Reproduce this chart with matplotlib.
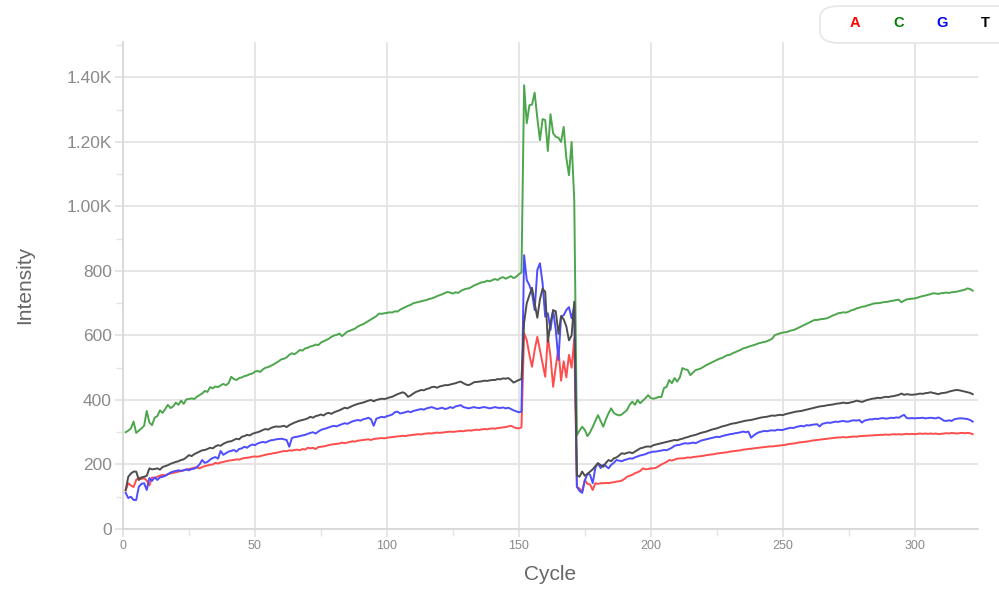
import numpy as np
import matplotlib
matplotlib.use("Agg")
import matplotlib.pyplot as plt
import matplotlib.ticker as mticker
from matplotlib.patches import FancyBboxPatch

plt.rcParams["font.family"] = ["Liberation Sans", "DejaVu Sans"]

# per-cycle base intensities, cycles 1..322
a_int = [
    120, 142, 135, 130, 152, 160, 155, 158, 150, 135,
    160, 158, 162, 165, 168, 166, 170, 172, 174, 176,
    178, 180, 182, 184, 186, 188, 190, 191, 188, 192,
    195, 197, 199, 200, 205, 203, 206, 208, 210, 212,
    213, 214, 216, 215, 218, 220, 221, 222, 224, 225,
    224, 226, 228, 230, 232, 233, 235, 236, 238, 240,
    242, 241, 244, 243, 245, 246, 244, 248, 246, 252,
    250, 252, 248, 254, 255, 256, 258, 260, 262, 263,
    264, 265, 268, 266, 268, 270, 272, 271, 274, 275,
    276, 277, 278, 276, 279, 280, 281, 282, 281, 283,
    284, 285, 286, 287, 288, 289, 288, 290, 291, 292,
    293, 294, 293, 295, 296, 297, 296, 298, 299, 298,
    299, 300, 301, 302, 301, 302, 303, 304, 303, 305,
    306, 305, 307, 308, 307, 309, 310, 309, 311, 312,
    311, 313, 314, 315, 316, 318, 320, 316, 313, 312,
    315,
    607, 586, 540, 503, 555, 596, 555, 514, 472, 596,
    534, 441, 503, 560, 460, 520, 470, 540, 500, 590,
    131, 125, 116, 152, 140, 138, 121, 142, 140, 142,
    142, 143, 142, 144, 145, 147, 148, 150, 155, 162,
    165, 168, 173, 176, 180, 188, 185, 186, 188, 188,
    190, 195, 200, 204, 208, 214, 212, 215, 218, 219,
    219, 220, 222, 221, 223, 224, 225, 226, 227, 229,
    230, 231, 232, 234, 235, 236, 237, 238, 240, 241,
    242, 243, 244, 246, 247, 248, 249, 250, 251, 252,
    253, 254, 255, 256, 256, 257, 258, 259, 260, 261,
    263, 264, 265, 266, 268, 269, 270, 271, 272, 274,
    275, 276, 277, 278, 279, 280, 281, 282, 283, 284,
    284, 285, 284, 285, 286, 287, 286, 288, 288, 289,
    289, 290, 290, 291, 291, 292, 292, 293, 292, 293,
    294, 293, 294, 293, 294, 295, 294, 295, 294, 295,
    296, 295, 296, 295, 296, 295, 296, 294, 295, 296,
    297, 296, 298, 297, 296, 297, 298, 297, 298, 297,
    294,
]

c_int = [
    300, 305, 312, 333, 298, 305, 312, 320, 366, 330,
    322, 345, 350, 368, 360, 372, 385, 375, 380, 392,
    385, 398, 388, 402, 403, 405, 403, 410, 415, 420,
    428, 425, 440, 436, 442, 440, 445, 450, 446, 452,
    472, 465, 462, 468, 470, 474, 476, 480, 482, 488,
    490, 487, 495, 500, 502, 506, 510, 515, 520, 526,
    528, 532, 540, 545, 542, 548, 555, 553, 560, 562,
    566, 568, 572, 570, 578, 582, 586, 590, 596, 600,
    602, 606, 598, 605, 612, 615, 618, 622, 628, 632,
    635, 640, 645, 650, 655, 660, 668, 667, 669, 670,
    672, 671, 675, 674, 680, 684, 688, 692, 695, 700,
    702, 704, 706, 708, 710, 713, 715, 718, 722, 725,
    728, 732, 735, 733, 730, 734, 732, 738, 742, 745,
    746, 750, 755, 758, 762, 765, 766, 770, 768, 772,
    775, 772, 778, 781, 776, 780, 784, 778, 782, 790,
    795,
    1376, 1258, 1314, 1316, 1353, 1274, 1206, 1271, 1268, 1172,
    1286, 1227, 1216, 1213, 1200, 1247, 1150, 1097, 1200, 1020,
    291, 305, 317, 307, 288, 300, 317, 335, 353, 335,
    317, 340, 359, 374, 360, 355, 352, 355, 362, 369,
    385, 395, 385, 400, 390, 398, 406, 415, 406, 404,
    406, 410, 409, 437, 441, 462, 452, 468, 457, 470,
    499, 495, 493, 477, 485, 493, 495, 498, 503, 508,
    512, 516, 520, 524, 528, 530, 535, 539, 540, 545,
    548, 552, 555, 560, 562, 565, 568, 570, 573, 576,
    578, 580, 582, 586, 590, 601, 604, 607, 609, 610,
    612, 615, 617, 620, 624, 628, 632, 636, 640, 644,
    648, 648, 650, 651, 652, 654, 658, 662, 665, 669,
    670, 672, 671, 674, 678, 680, 684, 686, 689, 690,
    693, 695, 698, 700, 700, 701, 703, 704, 705, 707,
    708, 710, 711, 703, 708, 712, 713, 714, 715, 717,
    720, 722, 724, 726, 728, 731, 730, 729, 731, 732,
    733, 732, 734, 735, 736, 738, 740, 742, 746, 744,
    739,
]

g_int = [
    112, 96, 100, 90, 90, 131, 140, 142, 121, 158,
    149, 160, 152, 160, 162, 165, 170, 175, 178, 180,
    182, 180, 182, 185, 182, 186, 187, 192, 200, 214,
    205, 208, 215, 220, 223, 218, 242, 230, 235, 240,
    242, 245, 240, 248, 250, 255, 252, 258, 262, 260,
    265, 268, 270, 268, 272, 275, 276, 278, 279, 280,
    278, 276, 255, 282, 285, 286, 288, 290, 292, 295,
    298, 300, 296, 302, 307, 310, 312, 315, 318, 320,
    318, 322, 325, 328, 326, 330, 334, 336, 338, 336,
    340, 342, 345, 340, 320, 342, 345, 348, 346, 350,
    352, 355, 362, 364, 358, 360, 362, 365, 362, 366,
    368, 370, 372, 370, 374, 376, 378, 375, 372, 374,
    376, 372, 374, 378, 375, 380, 382, 384, 378, 376,
    374, 376, 378, 376, 375, 377, 378, 376, 374, 376,
    378, 376, 375, 377, 374, 376, 372, 368, 365, 362,
    364,
    849, 772, 756, 731, 679, 803, 824, 762, 658, 669,
    617, 679, 617, 524, 658, 663, 679, 688, 653, 690,
    131, 118, 112, 150, 172, 168, 142, 190, 204, 189,
    199, 195, 188, 199, 205, 214, 212, 210, 214, 216,
    219, 218, 222, 225, 228, 230, 232, 236, 238, 240,
    240, 242, 243, 245, 244, 248, 252, 258, 260, 261,
    264, 266, 265, 266, 268, 266, 270, 274, 276, 278,
    280, 282, 284, 286, 285, 288, 290, 292, 294, 295,
    297, 298, 300, 302, 300, 302, 283, 290, 296, 300,
    302, 304, 303, 305, 306, 305, 308, 307, 307, 310,
    312, 314, 313, 316, 318, 320, 318, 322, 321, 323,
    324, 325, 318, 326, 328, 330, 329, 331, 333, 332,
    334, 335, 333, 333, 336, 337, 336, 338, 330, 336,
    338, 340, 340, 342, 341, 343, 344, 342, 343, 345,
    344, 346, 345, 350, 354, 344, 343, 344, 343, 344,
    344, 345, 343, 344, 345, 344, 343, 346, 342, 336,
    335, 337, 335, 340, 342, 343, 343, 342, 341, 338,
    333,
]

t_int = [
    120, 162, 172, 178, 178, 152, 160, 162, 165, 188,
    185, 186, 188, 184, 192, 195, 198, 202, 205, 208,
    210, 214, 216, 222, 229, 226, 232, 236, 240, 244,
    245, 248, 252, 250, 256, 260, 258, 264, 268, 271,
    272, 276, 280, 278, 286, 288, 292, 290, 295, 298,
    300, 303, 307, 310, 308, 313, 316, 318, 317, 318,
    320, 316, 322, 326, 330, 333, 336, 338, 340, 343,
    348, 345, 350, 352, 355, 352, 358, 360, 357, 362,
    365, 368, 372, 376, 374, 378, 382, 385, 388, 390,
    392, 395, 398, 400, 396, 400, 402, 404, 403, 405,
    408, 410, 414, 418, 421, 424, 420, 410, 414, 420,
    425, 428, 431, 430, 434, 436, 440, 441, 438, 442,
    444, 446, 446, 448, 450, 452, 455, 457, 452, 448,
    446, 450, 455, 456, 457, 458, 460, 459, 461, 462,
    462, 465, 464, 467, 466, 468, 462, 454, 458, 462,
    465,
    640, 700, 725, 748, 700, 655, 712, 745, 735, 580,
    640, 678, 675, 605, 660, 650, 628, 585, 600, 705,
    167, 162, 178, 165, 170, 178, 185, 195, 204, 198,
    193, 205, 214, 210, 219, 222, 228, 235, 233, 236,
    238, 235, 240, 245, 250, 252, 255, 256, 255, 260,
    262, 264, 266, 268, 270, 272, 274, 276, 275, 278,
    280, 283, 285, 288, 290, 292, 295, 298, 300, 302,
    305, 308, 310, 312, 315, 318, 320, 322, 325, 327,
    328, 330, 332, 334, 336, 337, 338, 340, 342, 344,
    346, 347, 348, 350, 352, 351, 353, 354, 353, 356,
    358, 360, 362, 364, 365, 366, 368, 370, 372, 374,
    376, 378, 380, 381, 382, 384, 385, 386, 388, 389,
    390, 392, 390, 391, 393, 395, 398, 396, 394, 397,
    400, 402, 404, 405, 407, 406, 408, 410, 409, 411,
    412, 414, 416, 420, 416, 418, 417, 416, 417, 418,
    420, 419, 421, 422, 424, 422, 420, 418, 421, 422,
    423, 426, 428, 430, 431, 430, 428, 426, 424, 422,
    418,
]

bases = ["A", "C", "G", "T"]
series = [a_int, c_int, g_int, t_int]
line_colors = ["#ff4d4d", "#4da64d", "#4d4dff", "#4d4d4d"]
label_colors = ["#ff0000", "#008000", "#0000ff", "#000000"]

for s in series:
    assert len(s) == 322, len(s)
cycles = np.arange(1, len(a_int) + 1)

GRID = "#e3e3e3"
TICK_TXT = "#8a8a8a"

fig = plt.figure(figsize=(9.99, 5.90), dpi=100)
ax = fig.add_axes([123 / 999, 1 - 529 / 590, 855 / 999, 487 / 590])

for base, vals, col in zip(bases, series, line_colors):
    ax.plot(cycles, vals, color=col, linewidth=1.4, label=base, zorder=3)

ax.set_xlim(0, 324)
ax.set_ylim(0, 1510)

ax.xaxis.set_major_locator(mticker.MultipleLocator(50))
ax.xaxis.set_minor_locator(mticker.MultipleLocator(25))
ax.yaxis.set_major_locator(mticker.MultipleLocator(200))
ax.yaxis.set_minor_locator(mticker.MultipleLocator(100))


def kfmt(v, pos):
    if v >= 1000:
        return f"{v / 1000:.2f}K"
    return f"{int(v)}"


ax.yaxis.set_major_formatter(mticker.FuncFormatter(kfmt))

ax.grid(True, which="major", color=GRID, linewidth=1.3, zorder=0)
ax.set_axisbelow(True)
for side in ("top", "right"):
    ax.spines[side].set_visible(False)
for side in ("left", "bottom"):
    ax.spines[side].set_color("#d8d8d8")
    ax.spines[side].set_linewidth(1.3)

ax.tick_params(axis="y", which="major", length=6, width=1.3, color=GRID,
               labelsize=12.5, labelcolor=TICK_TXT, pad=2)
ax.tick_params(axis="y", which="minor", length=5, width=1.0, color=GRID)
ax.tick_params(axis="x", which="major", length=6, width=1.3, color=GRID,
               labelsize=9, labelcolor=TICK_TXT, pad=2)
ax.tick_params(axis="x", which="minor", length=5, width=1.0, color=GRID)

fig.text(25 / 999, 1 - 285 / 590, "Intensity", rotation=90, ha="center",
         va="center", fontsize=15, color="#666666")
fig.text(550 / 999, 1 - 575 / 590, "Cycle", ha="center", va="center",
         fontsize=15, color="#666666")

# legend box in the top-right corner
box = FancyBboxPatch((820 / 999, 1 - 43 / 590), 200 / 999, 37 / 590,
                     boxstyle="round,pad=0,rounding_size=0.02",
                     transform=fig.transFigure, facecolor="white",
                     edgecolor="#e6e6e6", linewidth=1.2, clip_on=False)
fig.patches.append(box)
for i, (base, col) in enumerate(zip(bases, label_colors)):
    fig.text((855 + 43.3 * i) / 999, 1 - 23 / 590, base, ha="center",
             va="center", fontsize=10.5, fontweight="bold", color=col)

fig.savefig("out.png", dpi=100)
plt.close(fig)
